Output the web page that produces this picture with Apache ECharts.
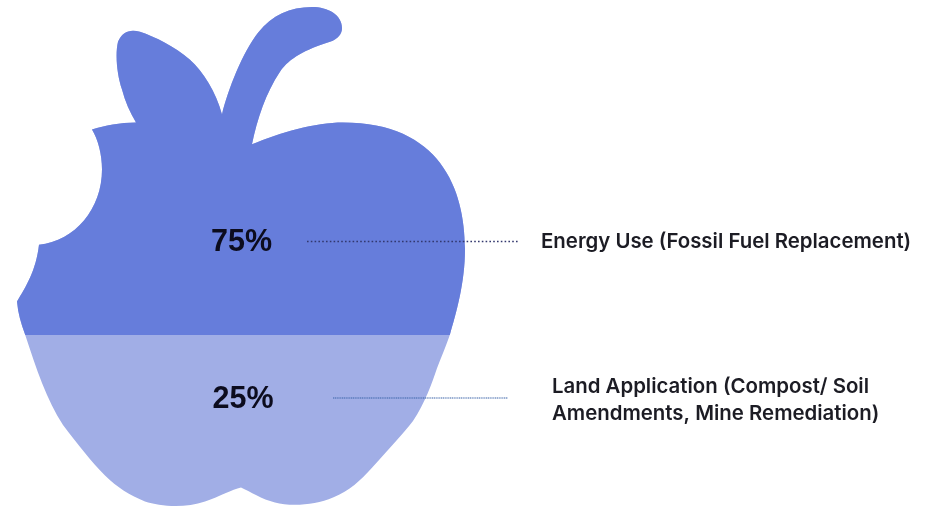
<!DOCTYPE html>
<html><head><meta charset="utf-8">
<style>html,body{margin:0;padding:0;background:#fff}#c{width:927px;height:506px}</style>
<script src="https://cdn.jsdelivr.net/npm/echarts@6/dist/echarts.min.js"></script>
</head><body><div id="c"></div>
<script>
const categories = ['Energy Use (Fossil Fuel Replacement)', 'Land Application (Compost/ Soil\nAmendments, Mine Remediation)'];
const shares = [75, 25];
const shareLabels = ['75%', '25%'];
const outline = 'M39 246 C36 272 26 288 17 303 C18 315 21 325 25 336 C36 370 47 403 63 427 C78 447 90 462 105 478 C117 490 130 498 145 504 C160 509 185 511 205 504 C220 499 232 492 241 490 C250 494 262 502 275 505 C290 509 315 508 333 500 C350 493 360 483 372 470 C388 452 403 436 413 423 C425 405 432 385 437 370 C443 355 447 345 450 336 C456 315 465 285 465 250 C465 190 440 123 343 123 C315 123 280 133 252 145 C257 120 266 93 280 72 C290 58 305 50 330 42 C338 39 342 34 342 28 C342 15 328 7 312 7 C290 7 272 15 258 33 C243 52 228 90 222 115 C216 92 203 72 190 60 C175 47 155 37 140 32 C130 29 122 32 118 42 C115 55 117 75 122 90 C125 102 130 113 136 123 C120 123 105 126 92 130 C98 140 102 155 102 170 C102 210 75 242 39 246 Z';
// The pictorial symbol is mirrored along an inverted value axis, so the outline is mirrored first.
const apple = 'path://' + outline.replace(/(-?[\d.]+) (-?[\d.]+)/g, (m, x, y) => x + ' ' + (516 - Number(y)));
const axisMax = 114.1;
const chart = echarts.init(document.getElementById('c'), null, {renderer: 'canvas'});
const labelFont = {fontFamily: 'Inter', fontWeight: 600, fontSize: 20.4, fill: '#1c1c24', lineHeight: 27};
const pctFont = {fontFamily: 'Liberation Sans', fontWeight: 'bold', fontSize: 30.5, fill: '#0c0c1e', align: 'center', verticalAlign: 'middle'};
chart.setOption({
  animation: false,
  grid: {left: 17, top: 7, width: 448, height: 501.6},
  xAxis: {type: 'category', data: ['apple'], show: false},
  yAxis: {type: 'value', inverse: true, min: 0, max: axisMax, show: false},
  series: [
    {name: categories[1], type: 'pictorialBar', data: [shares[0] + shares[1]], symbol: apple, symbolSize: ['100%', '100%'],
     symbolBoundingData: axisMax, barWidth: '100%', itemStyle: {color: '#A1AEE6'}, z: 1},
    {name: categories[0], type: 'pictorialBar', data: [shares[0]], symbol: apple, symbolSize: ['100%', '100%'],
     symbolBoundingData: axisMax, symbolClip: true, barWidth: '100%', itemStyle: {color: '#667DDB'}, z: 2}
  ],
  graphic: [
    {type: 'text', z: 10, x: 241.5, y: 243, style: {text: shareLabels[0], ...pctFont}},
    {type: 'text', z: 10, x: 243, y: 400, style: {text: shareLabels[1], ...pctFont}},
    {type: 'line', z: 10, shape: {x1: 307, y1: 241.5, x2: 518, y2: 241.5}, style: {stroke: '#33386e', lineWidth: 1.4, lineDash: [1.6, 2.2]}},
    {type: 'line', z: 10, shape: {x1: 333, y1: 398, x2: 508, y2: 398}, style: {stroke: '#3a63a8', lineWidth: 1.1, lineDash: [1.2, 0.6]}},
    {type: 'text', z: 10, x: 541, y: 241.5, style: {text: categories[0], ...labelFont, verticalAlign: 'middle'}},
    {type: 'text', z: 10, x: 552, y: 400.5, style: {text: categories[1], ...labelFont, verticalAlign: 'middle'}}
  ]
});
</script></body></html>
